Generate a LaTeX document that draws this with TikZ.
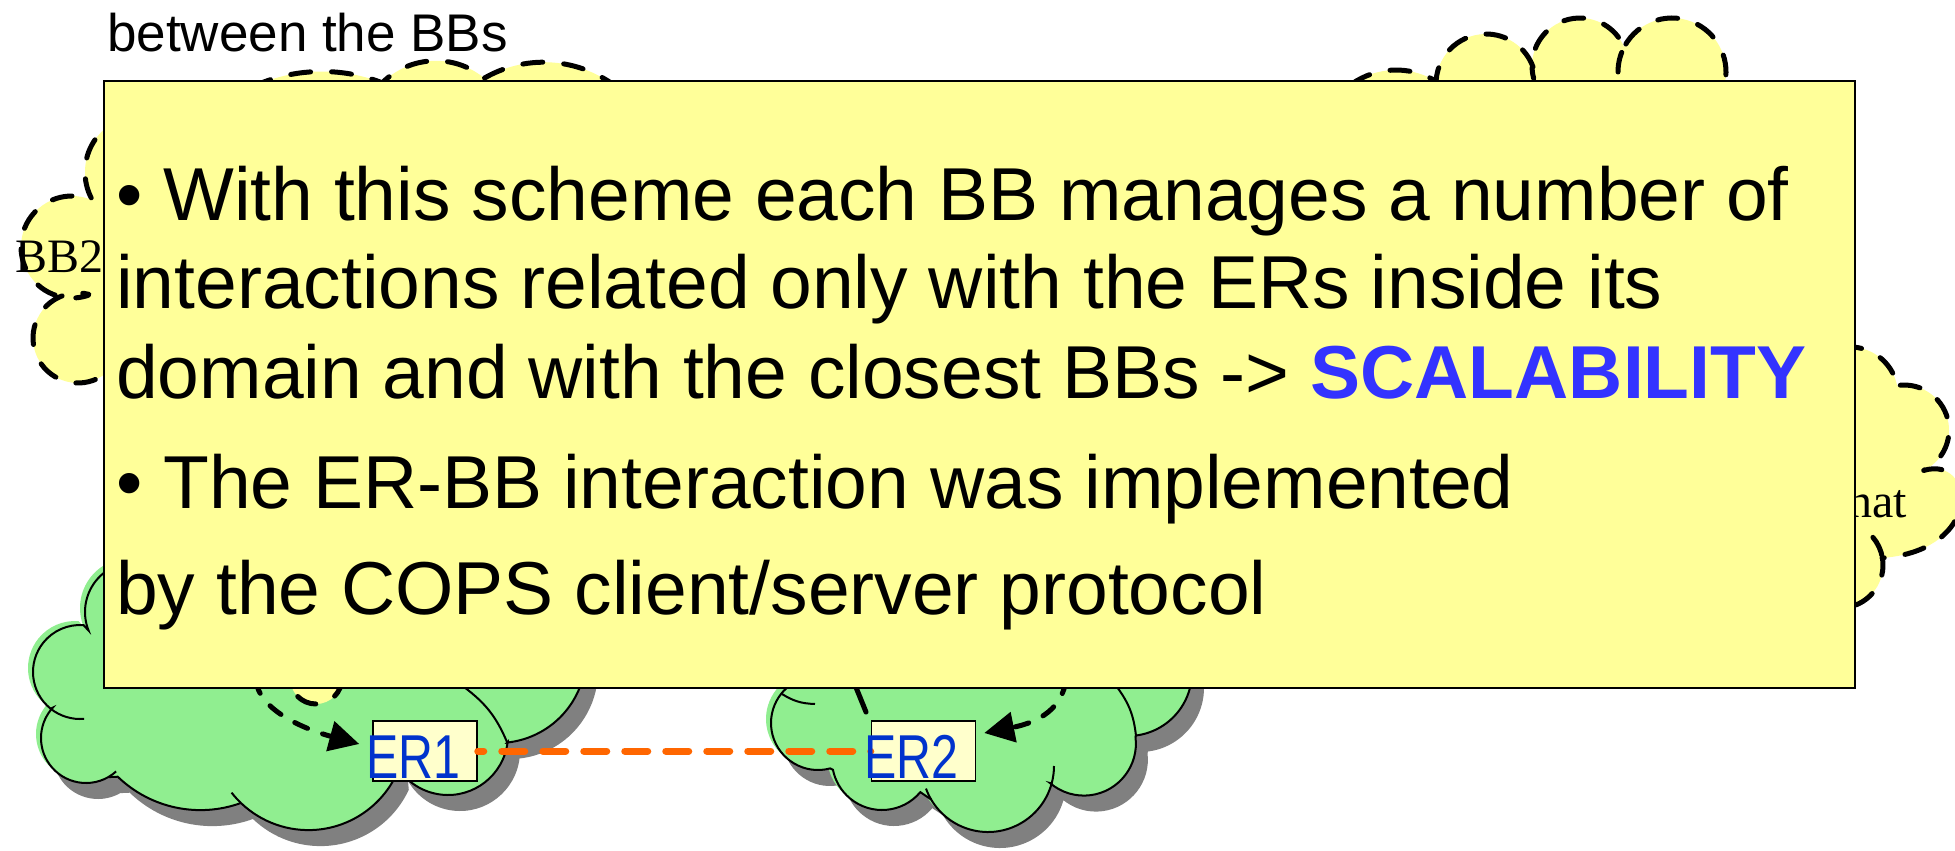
\documentclass[tikz,border=0pt]{standalone}
\usepackage{fontspec}
\usepackage{graphicx}
\setmainfont{Liberation Sans}
\newfontfamily\bbserif{Liberation Serif}
\usetikzlibrary{arrows.meta}

\definecolor{notefill}{HTML}{FFFF99}
\definecolor{bbfill}{HTML}{FFFF99}
\definecolor{domfill}{HTML}{90EE90}
\definecolor{domshadow}{HTML}{808080}
\definecolor{erfill}{HTML}{FFFFCC}
\definecolor{ertext}{HTML}{0033CC}
\definecolor{linkorange}{HTML}{FF6600}
\definecolor{keyblue}{HTML}{3333FF}

% one puff of a cloud: centre / start angle / end angle / radius
\tikzset{
  firstlobe/.style args={#1/#2/#3/#4}{insert path={([shift={(#2:#4)}]#1) arc[start angle=#2,end angle=#3,radius=#4]}},
  lobe/.style args={#1/#2/#3/#4}{insert path={-- ([shift={(#2:#4)}]#1) arc[start angle=#2,end angle=#3,radius=#4]}},
  puff/.style args={#1/#2/#3/#4}{insert path={([shift={(#2:#4)}]#1) arc[start angle=#2,end angle=#3,radius=#4]}},
  bbline/.style={line width=5pt, dash pattern=on 20pt off 21pt, line cap=round, line join=round},
  domline/.style={line width=2pt, draw=black},
  erbox/.style={draw=black, line width=1.5pt, fill=erfill, minimum width=104pt, minimum height=60pt, inner sep=0pt},
  erlabel/.style={anchor=base west, inner sep=0pt, text=ertext, font=\fontsize{62}{70}\selectfont},
  linkline/.style={draw=linkorange, line width=7pt, dash pattern=on 23pt off 18pt, dash phase=17pt, line cap=round},
  arrowline/.style={line width=5pt, dash pattern=on 14pt off 16pt, line cap=round, -{Triangle[length=30pt,width=30pt]}},
  notebox/.style={draw=black, line width=2pt, fill=notefill, inner sep=0pt},
  notetext/.style={anchor=base west, inner sep=0pt, font=\fontsize{75}{90}\selectfont},
  bblabel/.style={anchor=base west, inner sep=0pt, font=\bbserif\fontsize{48}{56}\selectfont}
}

% bandwidth-broker clouds (yellow, dashed)
\newcommand{\pathBBleft}{[firstlobe={322,237.5/245/291/166}] [lobe={435.8,137.1/226/309/76.3}] [lobe={543.8,181.2/240/305/119}] -- (700,200) -- (650,400) -- (300,420) [lobe={78,338/20/284/45}] [lobe={72,247/72/288/51}] [lobe={142,172/152/250/57}] -- cycle}
\newcommand{\pathBBright}{[firstlobe={1396,147/235/300/77}] [lobe={1486,84/184/340/50}] [lobe={1580,66/178/340.5/48}] [lobe={1672,72/207.6/375/54}] -- (1800,150) -- (1750,300) -- (1400,250) -- cycle}
\newcommand{\pathBBnat}{[firstlobe={1850,395/260/351.7/48}] [lobe={1904,430/262/424/45}] .. controls (1975,455) and (1985,550) .. (1882,558) [lobe={1840,565/350.5/440/43}] -- (1700,560) -- (1700,350) -- cycle}
% domain clouds (green, with shadow)
\newcommand{\pathDomA}{[firstlobe={498,655/-20/84/88}] [lobe={448,735/6.8/150/60}] [lobe={308.4,732.6/25/133.8/97.5}] [lobe={200.4,691.1/70/134/119}] [lobe={86,738/60.4/222.4/45}] [lobe={80,672/128.7/274.3/47}] [lobe={135,612/158.2/250/50}] -- (250,520) -- (450,540) -- cycle}
\newcommand{\pathDomB}{[firstlobe={1128,672/-30/82.8/64}] [lobe={1083.9,743.6/-7.2/130.7/52}] [lobe={988,766/15.3/149.6/66}] [lobe={882,760/40/168.7/50}] [lobe={818,723/75/250/47}] -- (900,560) -- (1050,570) -- cycle}

\begin{document}
\begin{tikzpicture}[x=1pt,y=-1pt]
\useasboundingbox (0,0) rectangle (1955,851);
\fill[white] (0,0) rectangle (1955,851);

\node[anchor=base west, inner sep=0pt, font=\fontsize{53}{64}\selectfont] (caption) at (107,52) {between the BBs};

% yellow BB clouds
\draw[bbline, fill=bbfill] \pathBBleft;
\draw[bbline, fill=bbfill] \pathBBright;
\draw[bbline, fill=bbfill] \pathBBnat;
\draw[bbline] [puff={1580,66/165/178/48}];
\draw[bbline] [puff={1672,72/180/207.6/54}];
\draw[bbline] [puff={1840,565/320/350.5/43}];
\node[bblabel] (bb2label) at (15,272) {BB2};
\node[bblabel] (natlabel) at (1848,517) {nat};

% green domain clouds
\fill[domshadow, shift={(12,16)}] \pathDomA;
\fill[domshadow, shift={(12,16)}] \pathDomB;
\fill[domfill, shift={(-5,-4)}] \pathDomA;
\fill[domfill, shift={(-5,-4)}] \pathDomB;
\draw[domline, fill=domfill] \pathDomA;
\draw[domline, fill=domfill] \pathDomB;
\draw[domline] [puff={80,672/85/128.7/47}];
\draw[domline] [puff={86,738/48/60.4/45}];
\draw[domline] [puff={308.4,732.6/133.8/142/97.5}];
\draw[domline] (464,687) to[bend left=15] (507,742);
\draw[domline] [puff={988,766/149.6/160/66}];
\draw[domline] [puff={988,766/0/15.3/66}];
\draw[domline] (1117,687) to[bend left=15] (1136,736);
\draw[domline] (782,694) to[bend right=15] (815,704);

% small BB puff above ER1
\draw[bbline, fill=bbfill] (316,678) circle[radius=26];

% edge routers and their links
\node[erbox] (er1) at (425,751) {};
\node[erbox] (er2) at (923.5,751) {};
\draw[linkline] (er1.east) -- (er2.west);

\coordinate (bb1) at (256,680);
\coordinate (bb2) at (1066,680);
\coordinate (bb3) at (853,680);
\coordinate (bb3end) at (866,712);
\draw[arrowline] (bb1) .. controls (258,708) and (300,728) .. ([shift={(-13pt,7pt)}]er1.west);
\draw[arrowline] (bb2) .. controls (1062,708) and (1040,722) .. ([shift={(8pt,18pt)}]er2.east);
\draw[line width=5pt, line cap=round] (bb3) -- (bb3end);

\node[erlabel] (er1label) at (366,778) {\scalebox{0.78}[1]{ER1}};
\node[erlabel] (er2label) at (864,778) {\scalebox{0.78}[1]{ER2}};

% note box
\node[notebox, anchor=north west, minimum width=1751pt, minimum height=607pt] (note) at (103,80) {};
\node[notetext] (line1) at (116,220) {\textbullet{} With this scheme each BB manages a number of};
\node[notetext] (line2) at (116,308) {interactions related only with the ERs inside its};
\node[notetext] (line3) at (116,398) {domain and with the closest BBs -> {\bfseries\color{keyblue}SCALABILITY}};
\node[notetext] (line4) at (116,508) {\textbullet{} The ER-BB interaction was implemented};
\node[notetext] (line5) at (116,614) {by the COPS client/server protocol};
\end{tikzpicture}
\end{document}
